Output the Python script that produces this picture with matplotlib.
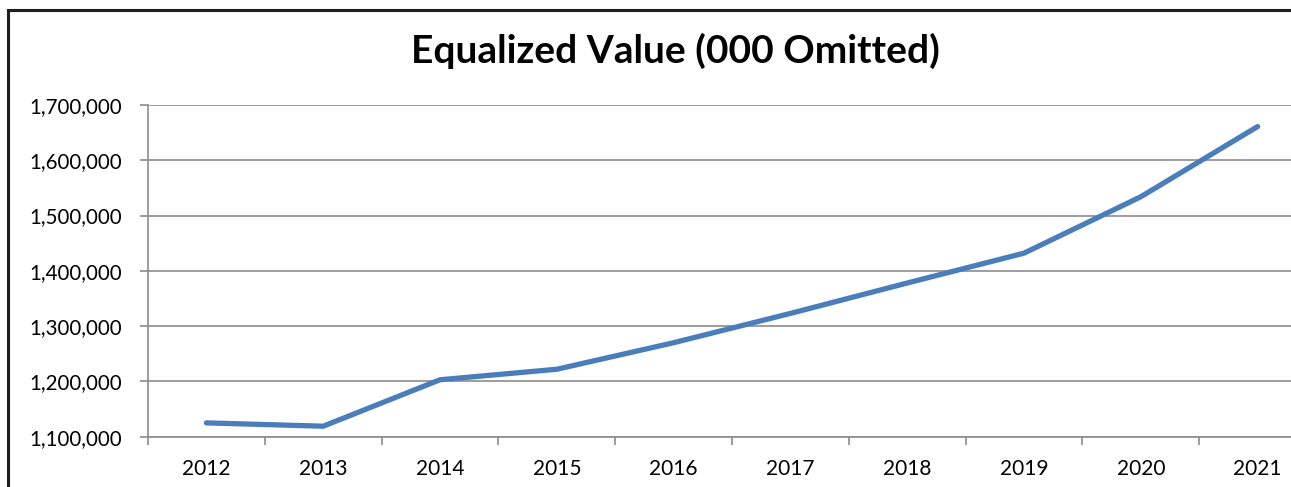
import matplotlib
matplotlib.use("Agg")
import matplotlib.pyplot as plt
from matplotlib.patches import Rectangle
from matplotlib.ticker import FuncFormatter, FixedLocator

# data (values in thousands)
years = ["2012", "2013", "2014", "2015", "2016", "2017", "2018", "2019", "2020", "2021"]
values = [1125000, 1119000, 1203000, 1222000, 1270000, 1323000, 1378000, 1432000, 1534000, 1661000]
y_ticks = [1100000, 1200000, 1300000, 1400000, 1500000, 1600000, 1700000]

plt.rcParams['font.family'] = ['Lato', 'DejaVu Sans']

W, H = 1291, 487
fig = plt.figure(figsize=(W / 100, H / 100), dpi=100)

# axes run off the right edge like the cropped original
left, right, top, bottom = 148, 1316, 105, 436.7
ax = fig.add_axes([left / W, 1 - bottom / H, (right - left) / W, (bottom - top) / H])

x = list(range(len(years)))
ax.plot(x, values, color='#4a7ebb', linewidth=3.8, solid_capstyle='round',
        solid_joinstyle='round', zorder=3)

ax.set_xlim(-0.5, len(years) - 0.5)
ax.set_ylim(y_ticks[0], y_ticks[-1])

grid_c = '#8c8c8c'
ax.set_yticks(y_ticks)
ax.yaxis.set_major_formatter(FuncFormatter(lambda v, p: f"{int(v):,}"))
ax.yaxis.grid(True, color=grid_c, linewidth=1.2)
ax.set_axisbelow(True)

ax.set_xticks(x)
ax.set_xticklabels(years)
ax.xaxis.set_minor_locator(FixedLocator([i - 0.5 for i in range(len(years) + 1)]))
ax.tick_params(axis='x', which='major', length=0, pad=16, labelsize=15)
ax.tick_params(axis='x', which='minor', length=6, width=1.2, color=grid_c, direction='out')
ax.tick_params(axis='y', length=6, width=1.2, color=grid_c, pad=13, labelsize=14.8)

for s in ['top', 'right']:
    ax.spines[s].set_visible(False)
ax.spines['left'].set_color(grid_c)
ax.spines['left'].set_linewidth(1.2)
ax.spines['bottom'].set_color(grid_c)
ax.spines['bottom'].set_linewidth(1.2)

fig.text(675 / W, 1 - 51 / H, "Equalized Value (000 Omitted)", ha='center', va='center',
         fontsize=28, fontweight='bold')

# outer chart frame, cut off at right and bottom
fig.patches.append(Rectangle((8 / W, -0.1), 1.2, 1 - 10 / H + 0.1, transform=fig.transFigure,
                             fill=False, edgecolor='#1e1e1e', linewidth=2.2, figure=fig))

fig.savefig("out.png", dpi=100)
